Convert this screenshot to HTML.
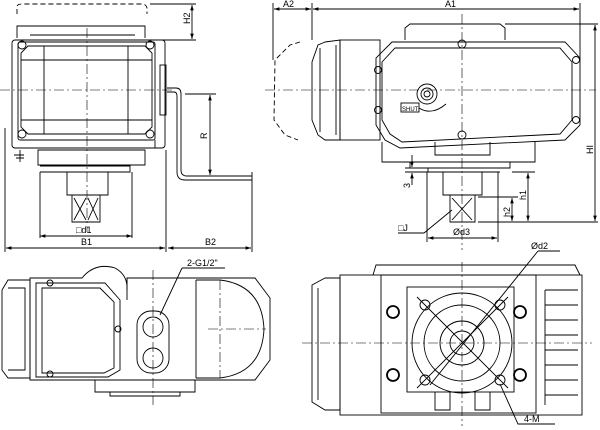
<!DOCTYPE html>
<html><head><meta charset="utf-8"><style>
html,body{margin:0;padding:0;background:#fff}
svg{display:block}
text{font-family:"Liberation Sans",sans-serif;font-size:9px;fill:#000}
</style></head><body>
<svg width="600" height="430" viewBox="0 0 600 430" xmlns="http://www.w3.org/2000/svg" fill="none" stroke="#000" stroke-width="0.9">
<defs>
<marker id="a" markerWidth="6" markerHeight="6" refX="6" refY="3" orient="auto-start-reverse"><path d="M0,1 L6,3 L0,5Z" fill="#000" stroke="none"/></marker>
</defs>
<g stroke-dasharray="10,3,2,3" stroke-width="0.6">
<line x1="87" y1="28" x2="87" y2="232"/><line x1="0" y1="90" x2="172" y2="90"/>
<line x1="462" y1="14" x2="462" y2="250"/><line x1="265" y1="90" x2="596" y2="90"/>
<line x1="153" y1="270" x2="153" y2="405"/><line x1="220" y1="280" x2="220" y2="378"/><line x1="208" y1="329" x2="266" y2="329"/>
<line x1="462" y1="262" x2="462" y2="426"/><line x1="302" y1="343" x2="592" y2="343"/>
</g>
<!-- TOP LEFT VIEW -->
<path d="M17,14 L17,6 Q18,4 22,4 L142,4 Q146,4 147,8 L147,14" stroke-dasharray="5,3"/>
<path d="M17,38 L17,26 L145,26 L145,38"/><path d="M30,35 L135,35"/>
<rect x="12" y="40" width="153" height="108" rx="3"/>
<rect x="18" y="42" width="137" height="98" rx="2"/>
<path d="M28,46 L145,46 L152,53 L152,127 L145,134 L28,134 L21,127 L21,53Z"/>
<path d="M44,46 L44,134 M128,46 L128,134 M21,60 L152,60 M21,120 L152,120"/>
<circle cx="22" cy="45" r="4"/><circle cx="150" cy="45" r="4"/><circle cx="22" cy="134" r="4"/><circle cx="150" cy="134" r="4"/>
<rect x="160" y="65" width="6" height="50"/>
<path d="M18,148 L155,148 L155,140 M38,150 L145,150 L145,165 L38,165Z M40,166 L130,166 L130,172 L40,172 M67,172 L67,195 L108,195 L108,172 M72,195 L72,222 L100,222 L100,195 M74,198 L86,220 M86,198 L74,220 M88,198 L98,220 M98,198 L88,220"/>
<path d="M20,150 L20,162 M14,155 L24,155 M16,158 L24,158"/>
<path d="M167,88 L176,88 Q181,88 181,94 L181,170 Q181,176 187,176 L252,176 M167,92 L174,92 Q177,92 177,96 L177,172 Q177,180 185,180 L252,180 L252,172"/>
<line x1="150" y1="4" x2="196" y2="4"/><line x1="150" y1="40" x2="196" y2="40"/>
<line x1="192" y1="5" x2="192" y2="39" marker-start="url(#a)" marker-end="url(#a)"/>
<text x="0" y="0" transform="translate(190,24) rotate(-90)" stroke="none">H2</text>
<line x1="185" y1="94" x2="216" y2="94"/><line x1="210" y1="95" x2="210" y2="175" marker-start="url(#a)" marker-end="url(#a)"/>
<text transform="translate(207,139) rotate(-90)" stroke="none">R</text>
<line x1="40" y1="236" x2="132" y2="236" marker-start="url(#a)" marker-end="url(#a)"/>
<text x="76" y="233" stroke="none">□d1</text>
<line x1="40" y1="172" x2="40" y2="238"/><line x1="132" y1="172" x2="132" y2="238"/>
<line x1="5" y1="128" x2="5" y2="252"/><line x1="166" y1="150" x2="166" y2="252"/><line x1="252" y1="180" x2="252" y2="252"/>
<line x1="6" y1="248" x2="165" y2="248" marker-start="url(#a)" marker-end="url(#a)"/>
<line x1="168" y1="248" x2="251" y2="248" marker-start="url(#a)" marker-end="url(#a)"/>
<text x="81" y="245" stroke="none">B1</text><text x="205" y="245" stroke="none">B2</text>
<!-- TOP RIGHT VIEW -->
<line x1="273" y1="3" x2="273" y2="60"/><line x1="312" y1="3" x2="312" y2="40"/><line x1="580" y1="3" x2="580" y2="60"/>
<line x1="274" y1="9" x2="311" y2="9" marker-start="url(#a)" marker-end="url(#a)"/>
<line x1="313" y1="9" x2="579" y2="9" marker-start="url(#a)" marker-end="url(#a)"/>
<text x="283" y="7" stroke="none">A2</text><text x="445" y="7" stroke="none">A1</text>
<path d="M300,42 L290,45 L275,60 L274,120 L285,135 L298,140" stroke-dasharray="5,3"/>
<path d="M325,42 L318,45 L312,62 L312,120 L318,135 L325,140 L340,140 L340,40 L325,42Z M320,48 L320,132 M336,45 L336,135"/>
<rect x="340" y="40" width="40" height="100"/>
<path d="M405,40 L405,28 L410,24 L500,24 L505,28 L505,40"/>
<path d="M392,42 L565,42 L580,58 L580,125 L565,140 L400,148 L385,140 L376,125 L376,58Z"/>
<path d="M395,48 L560,48 L572,62 L572,120 L560,134 L402,142 L390,134 L382,120 L382,62Z"/>
<circle cx="462" cy="44" r="4"/><circle cx="462" cy="135" r="4"/><circle cx="378" cy="70" r="3.5"/><circle cx="378" cy="110" r="3.5"/><circle cx="576" cy="60" r="3.5"/><circle cx="576" cy="120" r="3.5"/>
<circle cx="427" cy="94" r="10"/><circle cx="427" cy="94" r="6"/><circle cx="427" cy="94" r="3"/>
<rect x="401" y="103" width="18" height="9"/><path d="M419,108 Q432,116 446,104"/>
<text x="402" y="111" stroke="none" style="font-size:6px">SHUT</text>
<path d="M382,142 L382,162 L535,162 L535,142 M435,142 L435,155 L490,155 L490,142 M410,162 L410,168 L510,168 L510,162 M428,168 L428,172 L500,172 M443,172 L443,195 L482,195 L482,172 M450,195 L450,222 L475,222 L475,195 M452,198 L472,220 M472,198 L452,220"/>
<line x1="595" y1="25" x2="595" y2="221" marker-start="url(#a)" marker-end="url(#a)"/>
<line x1="505" y1="24" x2="598" y2="24"/><line x1="478" y1="222" x2="598" y2="222"/>
<text transform="translate(593,154) rotate(-90)" stroke="none">HI</text>
<line x1="512" y1="172" x2="535" y2="172"/><line x1="528" y1="173" x2="528" y2="221" marker-start="url(#a)" marker-end="url(#a)"/>
<text transform="translate(526,200) rotate(-90)" stroke="none">h1</text>
<line x1="478" y1="197" x2="518" y2="197"/><line x1="512" y1="198" x2="512" y2="221" marker-start="url(#a)" marker-end="url(#a)"/>
<text transform="translate(510,217) rotate(-90)" stroke="none">h2</text>
<line x1="405" y1="168" x2="430" y2="168"/><line x1="405" y1="172" x2="430" y2="172"/>
<line x1="412" y1="155" x2="412" y2="167" marker-end="url(#a)"/><line x1="412" y1="185" x2="412" y2="173" marker-end="url(#a)"/>
<text transform="translate(410,188) rotate(-90)" stroke="none">3</text>
<text x="398" y="231" stroke="none">□J</text><path d="M398,233 L424,233 L452,210"/>
<line x1="427" y1="172" x2="427" y2="242"/><line x1="498" y1="172" x2="498" y2="242"/>
<line x1="428" y1="238" x2="497" y2="238" marker-start="url(#a)" marker-end="url(#a)"/>
<text x="453" y="235" stroke="none">Ød3</text>
<!-- BOTTOM LEFT -->
<path d="M8,280 L30,280 L30,378 L8,378 L2,370 L2,290Z M8,288 L25,288 L25,370 L8,370"/>
<path d="M30,278 L82,278 Q95,262 115,268 Q128,275 127,290 L127,300 L127,278 L255,278 L270,298 L270,360 L255,380 L30,380Z"/>
<path d="M127,278 L127,290"/>
<path d="M36,283 L105,283 L120,300 L120,370 L108,377 L36,377Z M42,288 L100,288 L114,302 L114,368 L104,373 L42,373Z"/>
<circle cx="50" cy="283" r="3"/><circle cx="50" cy="374" r="3"/><circle cx="118" cy="329" r="3"/>
<path d="M196,280 L196,378 M196,280 L220,280 Q262,285 264,329 Q262,373 220,378 L196,378"/>
<rect x="137" y="311" width="32" height="62" rx="14"/>
<circle cx="153" cy="327" r="10"/><circle cx="153" cy="358" r="10"/>
<path d="M95,380 L95,392 L195,392 L195,380 M110,392 L110,396 L180,396 L180,392"/>
<path d="M182,268 L225,268 M182,268 L160,315"/>
<text x="187" y="266" stroke="none">2-G1/2"</text>
<!-- BOTTOM RIGHT -->
<path d="M325,278 L312,285 L312,402 L325,410 L340,410 L340,278Z M318,288 L318,400"/>
<rect x="340" y="275" width="242" height="140"/>
<path d="M373,275 L376,265 L575,265 L580,275"/>
<rect x="381" y="275" width="155" height="138"/>
<rect x="407" y="287" width="107" height="105"/>
<circle cx="462" cy="343" r="50"/><circle cx="462" cy="343" r="38"/><circle cx="462" cy="343" r="22"/><circle cx="462" cy="343" r="12"/>
<circle cx="425" cy="305" r="5"/><circle cx="500" cy="305" r="5"/><circle cx="425" cy="380" r="5"/><circle cx="500" cy="380" r="5"/>
<g stroke-width="1.8"><circle cx="393" cy="312" r="6"/><circle cx="393" cy="375" r="6"/><circle cx="520" cy="312" r="6"/><circle cx="520" cy="375" r="6"/></g>
<path d="M417,297 L508,388 M508,297 L417,388"/>
<path d="M545,290 L578,290 M545,305 L578,305 M545,320 L578,320 M545,335 L578,335 M545,350 L578,350 M545,365 L578,365 M545,380 L578,380 M545,395 L578,395 M545,290 L545,405"/>
<path d="M435,392 L435,410 L450,410 L450,392 M475,392 L475,410 L490,410 L490,392"/>
<path d="M538,251 L560,251 M538,251 L430,385"/><text x="531" y="249" stroke="none">Ød2</text>
<path d="M500,384 L518,424 L555,424"/><text x="524" y="422" stroke="none">4-M</text>
</svg>
</body></html>
